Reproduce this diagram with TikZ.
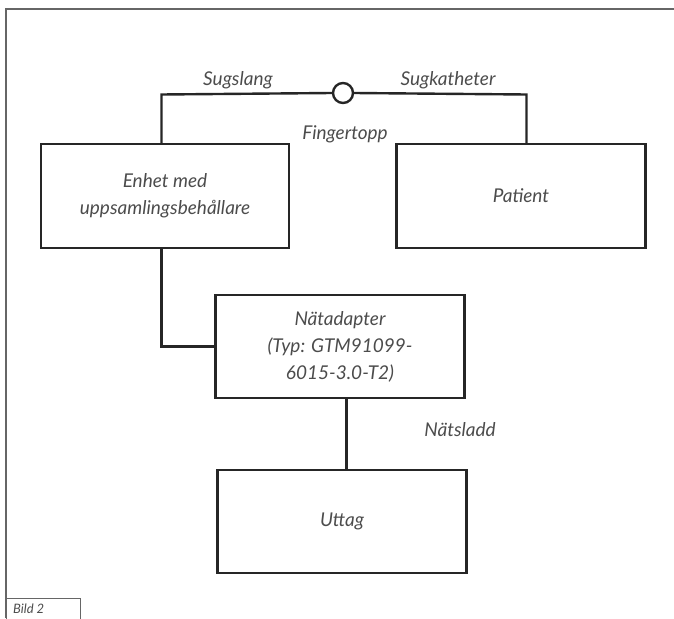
\documentclass[tikz,border=0pt]{standalone}
\usepackage{fontspec}
\setmainfont{Lato}
\begin{document}
\begin{tikzpicture}[x=1pt,y=-1pt,
  box/.style={draw=black!85,line width=2.4pt,fill=white,inner sep=0pt},
  wire/.style={draw=black!85,line width=2.4pt},
  lbl/.style={font=\itshape\fontsize{19}{27}\selectfont,text=black!70,align=center},
  frame/.style={draw=black!60,line width=1.4pt}]
\useasboundingbox (0,0) rectangle (674,618);
\draw[frame] (6,618) -- (6,9) -- (674,9);
\node[frame,draw,anchor=north west,minimum width=74pt,minimum height=21pt,inner sep=0pt] (bild) at (6,598) {};
\node[anchor=west,font=\itshape\fontsize{13}{14}\selectfont,text=black!70,inner sep=0pt] (bildt) at (13,609) {Bild 2};
\node[box,minimum width=248pt,minimum height=104pt] (enhet) at (165,196) {};
\node[lbl] (enhett) at (165,196) {Enhet med\\uppsamlingsbehållare};
\node[box,minimum width=249pt,minimum height=104pt] (patient) at (521,196) {};
\node[lbl] (patientt) at (521,196) {Patient};
\node[box,minimum width=249pt,minimum height=103pt] (adapter) at (340,346.5) {};
\node[lbl] (adaptert) at (340,346.5) {Nätadapter\\(Typ: GTM91099-\\6015-3.0-T2)};
\node[box,minimum width=249pt,minimum height=103pt] (uttag) at (342,521.5) {};
\node[lbl] (uttagt) at (342,521.5) {Uttag};
\node[draw=black!85,line width=2.4pt,circle,minimum size=20pt,inner sep=0pt,fill=white] (finger) at (343,93) {};
\coordinate (c1) at (161.5,94.5);
\coordinate (c2) at (526.5,94.5);
\draw[wire] (enhet.north -| c1) -- (c1) -- (finger.west);
\draw[wire] (patient.north -| c2) -- (c2) -- (finger.east);
\coordinate (c3) at (161.5,346.5);
\draw[wire] (enhet.south -| c3) -- (c3) -- (adapter.west);
\coordinate (c4) at (346.5,398);
\coordinate (c5) at (346.5,470);
\draw[wire] (c4) -- (c5);
\node[lbl] (sugslang) at (238,80) {Sugslang};
\node[lbl] (sugkath) at (448,80) {Sugkatheter};
\node[lbl] (fingert) at (345,134) {Fingertopp};
\node[lbl] (natsladd) at (460,430) {Nätsladd};
\end{tikzpicture}
\end{document}
